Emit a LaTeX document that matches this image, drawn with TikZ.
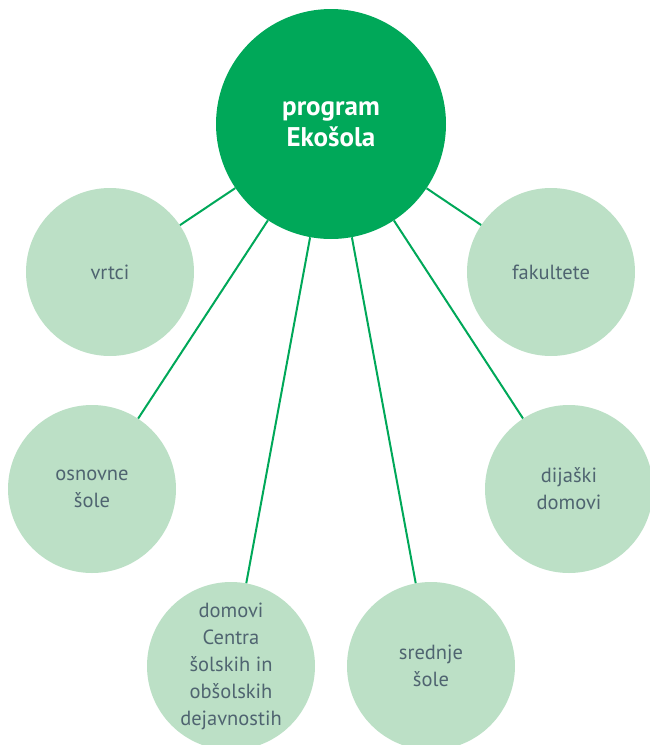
\documentclass[tikz,border=0pt]{standalone}
\usepackage{fontspec}
\setmainfont{PT Sans}
\definecolor{ekogreen}{HTML}{00A859}
\definecolor{ekolight}{HTML}{BCE0C6}
\definecolor{ekotext}{HTML}{4F6470}

\tikzset{
  hub/.style={
    circle,
    fill=ekogreen,
    text=white,
    minimum size=230pt,
    inner sep=0pt,
    text centered,
    align=center,
    font=\bfseries\fontsize{27}{31}\selectfont
  },
  member/.style={
    circle,
    fill=ekolight,
    text=ekotext,
    minimum size=168pt,
    inner sep=0pt,
    text centered,
    align=center,
    font=\fontsize{20.5}{27}\selectfont
  },
  link/.style={
    draw=ekogreen,
    line width=2pt
  },
}

\begin{document}
\begin{tikzpicture}[x=1pt, y=-1pt]
  \useasboundingbox (0, 0) rectangle (649, 745);
  \node[hub] (eko) at (331, 124) {program\\Ekošola};
  \node[member] (vrtci) at (110, 272) {vrtci};
  \node[member] (fakultete) at (551, 272) {fakultete};
  \node[member] (osnovne) at (92, 489) {osnovne\\šole};
  \node[member] (dijaski) at (569, 489) {dijaški\\domovi};
  \node[member] (domovi) at (231, 666) {domovi\\Centra\\šolskih in\\obšolskih\\dejavnostih};
  \node[member] (srednje) at (431, 666) {srednje\\šole};
  \draw[link] (eko) -- (vrtci);
  \draw[link] (eko) -- (fakultete);
  \draw[link] (eko) -- (osnovne);
  \draw[link] (eko) -- (dijaski);
  \draw[link] (eko) -- (domovi);
  \draw[link] (eko) -- (srednje);
\end{tikzpicture}
\end{document}
